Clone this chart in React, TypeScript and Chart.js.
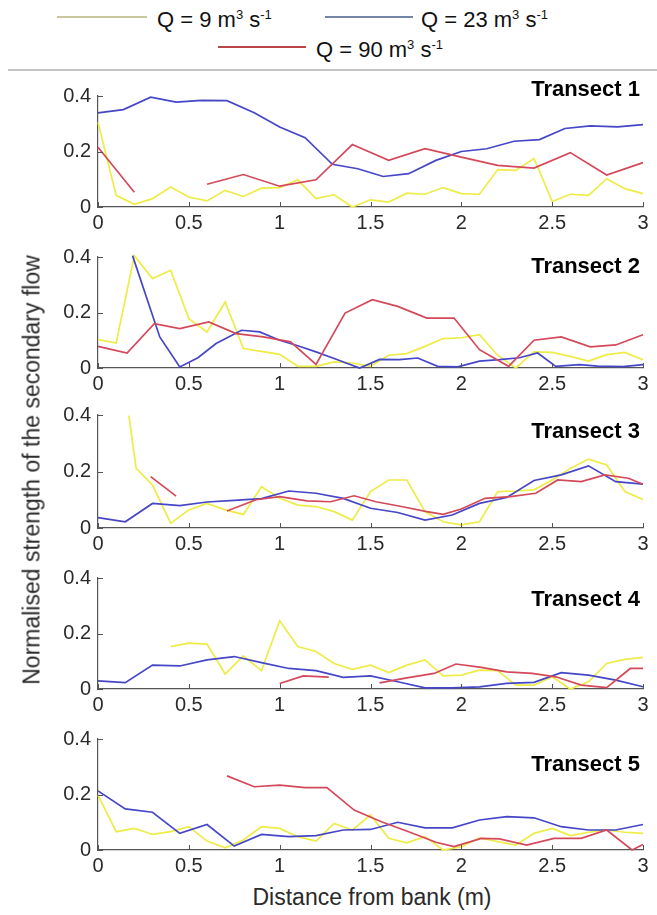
import React, { useEffect, useRef } from 'react';
import { Chart, registerables } from 'chart.js';

Chart.register(...registerables);

// ---------- Data ----------
const seriesNames = ['Q = 9', 'Q = 23', 'Q = 90'];
const transectTitles = ['Transect 1', 'Transect 2', 'Transect 3', 'Transect 4', 'Transect 5'];
const xTickValues = [0, 0.5, 1, 1.5, 2, 2.5, 3];
const xTickLabels = ['0', '0.5', '1', '1.5', '2', '2.5', '3'];
const yTickValues = [0, 0.2, 0.4];
const yTickLabels = ['0', '0.2', '0.4'];
const xAxisTitle = 'Distance from bank (m)';
const yAxisTitle = 'Normalised strength of the secondary flow';

// distances (m)
const dist10 = [0, 0.1, 0.2, 0.3, 0.4, 0.5, 0.6, 0.7, 0.8, 0.9, 1, 1.1, 1.2, 1.3, 1.4, 1.5, 1.6, 1.7, 1.8, 1.9, 2, 2.1, 2.2, 2.3, 2.4, 2.5, 2.6, 2.7, 2.8, 2.9, 3];
const dist15 = [0, 0.15, 0.3, 0.45, 0.6, 0.75, 0.9, 1.05, 1.2, 1.35, 1.5, 1.65, 1.8, 1.95, 2.1, 2.25, 2.4, 2.55, 2.7, 2.85, 3];

// Transect 1
const t1q9 = [0.305, 0.042, 0.01, 0.03, 0.072, 0.036, 0.022, 0.06, 0.038, 0.068, 0.07, 0.098, 0.03, 0.044, 0.0, 0.026, 0.018, 0.05, 0.046, 0.07, 0.048, 0.046, 0.135, 0.132, 0.175, 0.02, 0.046, 0.042, 0.102, 0.066, 0.048];
const t1q23x = [0, 0.14, 0.29, 0.43, 0.57, 0.71, 0.86, 1, 1.14, 1.29, 1.43, 1.57, 1.71, 1.86, 2, 2.14, 2.29, 2.43, 2.57, 2.71, 2.86, 3];
const t1q23 = [0.339, 0.351, 0.396, 0.378, 0.384, 0.383, 0.34, 0.288, 0.25, 0.154, 0.138, 0.11, 0.12, 0.168, 0.2, 0.21, 0.237, 0.243, 0.283, 0.292, 0.289, 0.297];
const t1q90x = [0, 0.2, 0.4, 0.6, 0.8, 1, 1.2, 1.4, 1.6, 1.8, 2, 2.2, 2.4, 2.6, 2.8, 3];
const t1q90 = [0.215, 0.053, null, 0.082, 0.117, 0.075, 0.098, 0.225, 0.168, 0.21, 0.18, 0.15, 0.14, 0.196, 0.115, 0.16];

// Transect 2
const t2q9 = [0.102, 0.09, 0.405, 0.322, 0.352, 0.178, 0.13, 0.238, 0.07, 0.06, 0.049, 0.006, 0.006, 0.022, 0.018, 0.006, 0.046, 0.052, 0.078, 0.106, 0.109, 0.12, 0.046, 0.0, 0.058, 0.056, 0.042, 0.025, 0.048, 0.056, 0.03];
const t2q23x = [0.19, 0.34, 0.45, 0.55, 0.65, 0.79, 0.89, 1, 1.1, 1.2, 1.3, 1.44, 1.55, 1.66, 1.76, 1.87, 1.98, 2.1, 2.21, 2.32, 2.42, 2.52, 2.65, 2.75, 2.89, 3];
const t2q23 = [0.405, 0.112, 0.004, 0.037, 0.088, 0.136, 0.13, 0.1, 0.08, 0.058, 0.034, 0.0, 0.031, 0.03, 0.036, 0.006, 0.004, 0.025, 0.03, 0.037, 0.054, 0.006, 0.012, 0.007, 0.005, 0.012];
const t2q90x = [0, 0.16, 0.31, 0.45, 0.61, 0.76, 0.91, 1.06, 1.2, 1.36, 1.51, 1.65, 1.81, 1.96, 2.1, 2.26, 2.4, 2.55, 2.71, 2.85, 3];
const t2q90 = [0.078, 0.054, 0.16, 0.142, 0.166, 0.124, 0.112, 0.094, 0.013, 0.198, 0.246, 0.222, 0.18, 0.18, 0.066, 0.006, 0.1, 0.112, 0.076, 0.083, 0.12];

// Transect 3
const t3q9x = [0.17, 0.21, 0.3, 0.4, 0.5, 0.6, 0.7, 0.8, 0.9, 1, 1.1, 1.2, 1.3, 1.4, 1.5, 1.6, 1.7, 1.8, 1.9, 2, 2.1, 2.2, 2.3, 2.4, 2.5, 2.6, 2.7, 2.8, 2.9, 3];
const t3q9 = [0.398, 0.211, 0.152, 0.017, 0.064, 0.087, 0.064, 0.048, 0.146, 0.105, 0.081, 0.076, 0.058, 0.028, 0.129, 0.17, 0.17, 0.058, 0.022, 0.011, 0.022, 0.129, 0.131, 0.135, 0.17, 0.211, 0.244, 0.223, 0.129, 0.101];
const t3q23 = [0.037, 0.022, 0.087, 0.079, 0.092, 0.098, 0.104, 0.131, 0.123, 0.105, 0.07, 0.055, 0.028, 0.046, 0.087, 0.108, 0.168, 0.188, 0.22, 0.164, 0.155];
const t3q90x = [0.29, 0.43, 0.57, 0.71, 0.87, 1, 1.15, 1.28, 1.41, 1.53, 1.67, 1.81, 1.9, 2, 2.13, 2.27, 2.41, 2.53, 2.66, 2.79, 2.92, 3];
const t3q90 = [0.182, 0.113, null, 0.06, 0.1, 0.111, 0.096, 0.093, 0.114, 0.093, 0.076, 0.058, 0.048, 0.067, 0.105, 0.111, 0.123, 0.17, 0.164, 0.188, 0.176, 0.155];

// Transect 4
const t4q9 = [null, null, null, null, 0.153, 0.165, 0.162, 0.054, 0.119, 0.066, 0.246, 0.153, 0.135, 0.092, 0.071, 0.086, 0.059, 0.086, 0.105, 0.047, 0.05, 0.068, 0.066, 0.014, 0.014, 0.044, 0.0, 0.026, 0.092, 0.107, 0.114];
const t4q23 = [0.029, 0.023, 0.086, 0.083, 0.105, 0.117, 0.095, 0.074, 0.066, 0.042, 0.047, 0.026, 0.004, 0.004, 0.008, 0.02, 0.024, 0.059, 0.05, 0.032, 0.008];
const t4q90x = [1, 1.13, 1.27, 1.4, 1.55, 1.7, 1.85, 1.97, 2.11, 2.25, 2.39, 2.52, 2.66, 2.8, 2.93, 3];
const t4q90 = [0.02, 0.047, 0.043, null, 0.022, 0.04, 0.056, 0.09, 0.078, 0.062, 0.056, 0.044, 0.014, 0.005, 0.074, 0.074];

// Transect 5
const t5q9 = [0.198, 0.066, 0.078, 0.056, 0.066, 0.084, 0.032, 0.008, 0.036, 0.084, 0.078, 0.048, 0.032, 0.096, 0.072, 0.126, 0.042, 0.026, 0.048, 0.0, 0.012, 0.044, 0.03, 0.018, 0.06, 0.078, 0.052, 0.064, 0.072, 0.064, 0.06];
const t5q23 = [0.213, 0.148, 0.136, 0.06, 0.092, 0.014, 0.056, 0.048, 0.052, 0.072, 0.074, 0.1, 0.08, 0.08, 0.108, 0.12, 0.116, 0.084, 0.072, 0.072, 0.092];
const t5q90x = [0.71, 0.86, 1, 1.14, 1.26, 1.41, 1.56, 1.71, 1.86, 1.96, 2.11, 2.21, 2.36, 2.51, 2.66, 2.8, 2.94, 3];
const t5q90 = [0.267, 0.228, 0.234, 0.225, 0.225, 0.144, 0.102, 0.066, 0.028, 0.012, 0.042, 0.04, 0.018, 0.042, 0.042, 0.072, 0.0, 0.02];

// ---------- Table built from the arrays ----------
const panels = [
  { q9x: dist10, q9: t1q9, q23x: t1q23x, q23: t1q23, q90x: t1q90x, q90: t1q90 },
  { q9x: dist10, q9: t2q9, q23x: t2q23x, q23: t2q23, q90x: t2q90x, q90: t2q90 },
  { q9x: t3q9x, q9: t3q9, q23x: dist15, q23: t3q23, q90x: t3q90x, q90: t3q90 },
  { q9x: dist10, q9: t4q9, q23x: dist15, q23: t4q23, q90x: t4q90x, q90: t4q90 },
  { q9x: dist10, q9: t5q9, q23x: dist15, q23: t5q23, q90x: t5q90x, q90: t5q90 },
];

// ---------- Styles ----------
const FONT = '"Liberation Sans", Arial, Helvetica, sans-serif';
const COLORS = { q9: '#eeec46', q23: '#4646c8', q90: '#d4495a' };
const LEGEND_COLORS = { q9: '#c9c79e', q23: '#7386a6', q90: '#b84646' };
const AXIS_COLOR = '#555555';
const TEXT_COLOR = '#2a2a2a';
const PLOT_TOPS = [96, 257, 415, 578, 739];
const PLOT_BOTTOMS = [207, 368, 528, 689, 850];
const TITLE_DY = [-6, 10, 17, 22, 26];
const PAD_TOP = 22;
const XAXIS_H = 34;
const Y_AXIS_W = 98;
const RIGHT_PAD = 14;
const W = 657;

const zip = (xs: number[], ys: (number | null)[]) => xs.map((x, i) => ({ x, y: ys[i] }));

const decorPlugin = {
  id: 'panelDecor',
  afterDraw(chart: any, _args: any, opts: any) {
    const { ctx, chartArea, scales } = chart;
    ctx.save();
    ctx.strokeStyle = AXIS_COLOR;
    ctx.lineWidth = 1;
    xTickValues.forEach((v) => {
      const px = Math.round(scales.x.getPixelForValue(v)) + 0.5;
      ctx.beginPath();
      ctx.moveTo(px, chartArea.bottom);
      ctx.lineTo(px, chartArea.bottom - 5);
      ctx.stroke();
    });
    yTickValues.forEach((v) => {
      const py = Math.round(scales.y.getPixelForValue(v)) + 0.5;
      ctx.beginPath();
      ctx.moveTo(chartArea.left, py);
      ctx.lineTo(chartArea.left + 5, py);
      ctx.stroke();
    });
    ctx.font = `bold 22px ${FONT}`;
    ctx.fillStyle = '#000';
    ctx.textAlign = 'right';
    ctx.textBaseline = 'middle';
    ctx.fillText(opts.title, chartArea.right - 3, chartArea.top + opts.dy);
    ctx.restore();
  },
};

function Panel({ idx }: { idx: number }) {
  const ref = useRef<HTMLCanvasElement | null>(null);
  const plotH = PLOT_BOTTOMS[idx] - PLOT_TOPS[idx];
  const H = plotH + PAD_TOP + XAXIS_H;

  useEffect(() => {
    if (!ref.current) return;
    const p = panels[idx];
    const mk = (label: string, xs: number[], ys: (number | null)[], color: string) => ({
      label,
      data: zip(xs, ys),
      borderColor: color,
      backgroundColor: color,
      borderWidth: 1.7,
      pointRadius: 0,
      tension: 0,
      spanGaps: false,
      clip: false as any,
    });
    const chart = new Chart(ref.current, {
      type: 'line',
      data: {
        datasets: [
          mk(seriesNames[2], p.q90x, p.q90, COLORS.q90),
          mk(seriesNames[1], p.q23x, p.q23, COLORS.q23),
          mk(seriesNames[0], p.q9x, p.q9, COLORS.q9),
        ],
      },
      options: {
        animation: false,
        responsive: false,
        devicePixelRatio: 1,
        layout: { padding: { top: PAD_TOP, left: 0, right: RIGHT_PAD, bottom: 0 } },
        plugins: {
          legend: { display: false },
          tooltip: { enabled: false },
          panelDecor: { title: transectTitles[idx], dy: TITLE_DY[idx] },
        } as any,
        scales: {
          x: {
            type: 'linear',
            min: 0,
            max: 3,
            afterBuildTicks: (s: any) => {
              s.ticks = xTickValues.map((v) => ({ value: v }));
            },
            afterFit: (s: any) => {
              s.height = XAXIS_H;
            },
            ticks: {
              callback: (_v: any, i: number) => xTickLabels[i],
              font: { family: FONT, size: 20 },
              color: TEXT_COLOR,
              padding: 4,
              maxRotation: 0,
              autoSkip: false,
            },
            grid: { display: true, drawOnChartArea: false, drawTicks: false },
            border: { display: true, color: AXIS_COLOR, width: 1.2 },
          },
          y: {
            type: 'linear',
            min: 0,
            max: 0.4,
            afterBuildTicks: (s: any) => {
              s.ticks = yTickValues.map((v) => ({ value: v }));
            },
            afterFit: (s: any) => {
              s.width = Y_AXIS_W;
            },
            ticks: {
              callback: (_v: any, i: number) => yTickLabels[i],
              font: { family: FONT, size: 20 },
              color: TEXT_COLOR,
              padding: 7,
              autoSkip: false,
            },
            grid: { display: true, drawOnChartArea: false, drawTicks: false },
            border: { display: true, color: AXIS_COLOR, width: 1.2 },
          },
        },
      },
      plugins: [decorPlugin],
    } as any);
    return () => chart.destroy();
  }, [idx]);

  return (
    <div style={{ position: 'absolute', left: 0, top: PLOT_TOPS[idx] - PAD_TOP, width: W, height: H }}>
      <canvas ref={ref} width={W} height={H} style={{ width: W, height: H, display: 'block' }} />
    </div>
  );
}

function LegendItem({ left, top, lineLeft, lineWidth, color, q }: any) {
  return (
    <>
      <div style={{ position: 'absolute', left: lineLeft, top: top + 7, width: lineWidth, height: 0, borderTop: `2px solid ${color}` }} />
      <div style={{ position: 'absolute', left, top, fontSize: 22, lineHeight: '22px', whiteSpace: 'nowrap', color: '#111', fontFamily: FONT }}>
        {q} m<span style={{ fontSize: 13, position: 'relative', top: -8 }}>3</span> s<span style={{ fontSize: 13, position: 'relative', top: -8 }}>-1</span>
      </div>
    </>
  );
}

export default function App() {
  return (
    <div style={{ position: 'absolute', left: 0, top: 0, width: W, height: 915, background: '#fff', overflow: 'hidden', fontFamily: FONT }}>
      <LegendItem lineLeft={57} lineWidth={90} left={157} top={9} color={LEGEND_COLORS.q9} q={`${seriesNames[0]}`} />
      <LegendItem lineLeft={325} lineWidth={88} left={421} top={9} color={LEGEND_COLORS.q23} q={`${seriesNames[1]}`} />
      <LegendItem lineLeft={218} lineWidth={88} left={316} top={39} color={LEGEND_COLORS.q90} q={`${seriesNames[2]}`} />
      <div style={{ position: 'absolute', left: 8, top: 69, width: W - 8, height: 0, borderTop: '2px solid #c4c4c4' }} />
      {panels.map((_, i) => (
        <Panel key={i} idx={i} />
      ))}
      <div
        style={{
          position: 'absolute',
          left: 32,
          top: 470,
          transform: 'translate(-50%, -50%) rotate(-90deg)',
          fontSize: 23,
          lineHeight: '23px',
          whiteSpace: 'nowrap',
          color: TEXT_COLOR,
        }}
      >
        {yAxisTitle}
      </div>
      <div
        style={{
          position: 'absolute',
          left: 372,
          top: 886,
          transform: 'translateX(-50%)',
          fontSize: 23,
          lineHeight: '23px',
          whiteSpace: 'nowrap',
          color: TEXT_COLOR,
        }}
      >
        {xAxisTitle}
      </div>
    </div>
  );
}
